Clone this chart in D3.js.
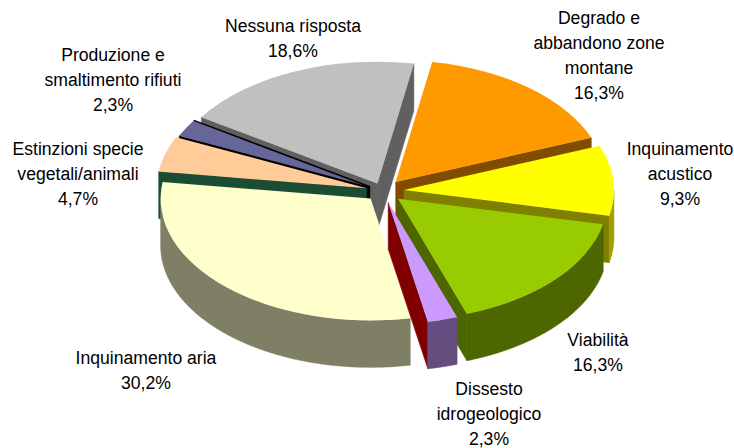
<!DOCTYPE html>
<html>
<head>
<meta charset="utf-8">
<script src="https://cdn.jsdelivr.net/npm/d3@7"></script>
<style>
  html, body { margin: 0; background: #fff; }
  text { font-family: "Liberation Sans", Arial, sans-serif; font-size: 17.6px; fill: #000; }
</style>
</head>
<body>
<script>
// values, clockwise from the orange slice
const categories = ["Degrado e abbandono zone montane", "Inquinamento acustico", "Viabilità", "Dissesto idrogeologico", "Inquinamento aria", "Estinzioni specie vegetali/animali", "Produzione e smaltimento rifiuti", "Nessuna risposta"];
const values = [16.3, 9.3, 16.3, 2.3, 30.2, 4.7, 2.3, 18.6];
const labelLines = [
  ["Degrado e", "abbandono zone", "montane"],
  ["Inquinamento", "acustico"],
  ["Viabilità"],
  ["Dissesto", "idrogeologico"],
  ["Inquinamento aria"],
  ["Estinzioni specie", "vegetali/animali"],
  ["Produzione e", "smaltimento rifiuti"],
  ["Nessuna risposta"]
];
const topColors = ["#ff9900", "#ffff00", "#99cc00", "#cc99ff", "#ffffcc", "#ffcc99", "#666699", "#c0c0c0"];
const rimColors = ["#7f4c00", "#a39b00", "#4d6600", "#664d7f", "#7f7f66", "#7f664d", "#333366", "#606060"];
const wallColors = ["#7f4c00", "#7f7f00", "#4d6600", "#800000", "#7f7f66", "#1a4d33", "#000000", "#606060"];

const width = 734;
const height = 448;
const center = { x: 383, y: 191 };
const radius = 210;
const squash = 0.58;
const depth = 47;
const pull = [20, 21, 20, 20, 18, 17, 15, 14];
const labelSpots = [
  [599, 24], [680, 155], [598, 346], [489, 395],
  [146, 364], [78, 155], [113, 61], [293, 32]
];
const lineGap = 25;

const svg = d3.select("body").append("svg").attr("width", width).attr("height", height);

const startAngle = (10 * Math.PI) / 180;
const pie = d3.pie().sort(null).startAngle(startAngle).endAngle(startAngle + 2 * Math.PI);
const slices = pie(values).map((d, i) => {
  const mid = (d.startAngle + d.endAngle) / 2;
  return {
    ...d,
    i,
    x: center.x + pull[i] * Math.sin(mid),
    y: center.y - pull[i] * Math.cos(mid) * squash
  };
});

const arc = d3.arc().innerRadius(0).outerRadius(radius);
const line = d3.line();
const rim = (s, a) => [s.x + radius * Math.sin(a), s.y - radius * squash * Math.cos(a)];

function radialWall(g, s, a, color) {
  const p = rim(s, a);
  g.append("path")
    .attr("d", line([[s.x, s.y], p, [p[0], p[1] + depth], [s.x, s.y + depth]]) + "Z")
    .attr("fill", color)
    .attr("stroke", color)
    .attr("stroke-width", 0.5);
}

function rimWall(g, s, color) {
  const a0 = Math.max(s.startAngle, Math.PI / 2);
  const a1 = Math.min(s.endAngle, (3 * Math.PI) / 2);
  if (a1 <= a0) return;
  const angles = d3.range(a0, a1, 0.01).concat([a1]);
  const upper = angles.map((a) => rim(s, a));
  const lower = upper.map((p) => [p[0], p[1] + depth]).reverse();
  g.append("path")
    .attr("d", line(upper.concat(lower)) + "Z")
    .attr("fill", color)
    .attr("stroke", color)
    .attr("stroke-width", 0.5);
}

// painter's order, back to front
const drawOrder = [7, 0, 6, 5, 1, 4, 2, 3];
drawOrder.forEach((i) => {
  const s = slices[i];
  const g = svg.append("g").attr("class", "slice");
  if (Math.sin(s.startAngle) < 0) radialWall(g, s, s.startAngle, wallColors[i]);
  if (Math.sin(s.endAngle) > 0) radialWall(g, s, s.endAngle, wallColors[i]);
  rimWall(g, s, rimColors[i]);
  g.append("path")
    .attr("d", arc(s))
    .attr("transform", `translate(${s.x},${s.y}) scale(1,${squash})`)
    .attr("fill", topColors[i]);
  // the blue slice has a black edge against the grey one
  if (i === 6) {
    g.append("path")
      .attr("d", line([[s.x, s.y], rim(s, s.endAngle)]))
      .attr("stroke", "#000")
      .attr("stroke-width", 1.5);
  }
});

const labels = svg.append("g").attr("class", "labels");
categories.forEach((c, i) => {
  const t = labels.append("text")
    .attr("text-anchor", "middle")
    .attr("x", labelSpots[i][0])
    .attr("y", labelSpots[i][1]);
  const rows = labelLines[i].concat([String(values[i]).replace(".", ",") + "%"]);
  rows.forEach((r, j) => {
    t.append("tspan")
      .attr("x", labelSpots[i][0])
      .attr("dy", j === 0 ? 0 : lineGap)
      .text(r);
  });
});
</script>
</body>
</html>
